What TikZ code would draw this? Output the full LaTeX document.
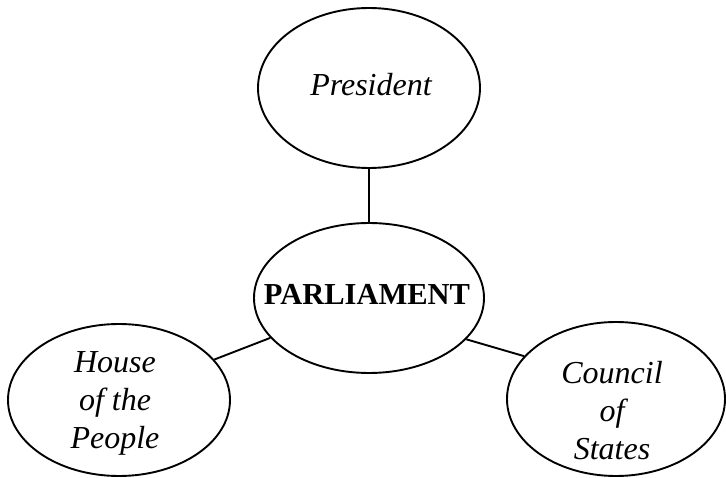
\documentclass[tikz,border=0pt]{standalone}
\usepackage{fontspec}
\setmainfont{Liberation Serif}
\usetikzlibrary{shapes.geometric}
\begin{document}
\begin{tikzpicture}[x=1pt,y=-1pt,
  bub/.style={draw=black,line width=1.9pt,ellipse,inner sep=0pt},
  lab/.style={align=center,inner sep=0pt,font=\fontsize{32}{38}\selectfont\itshape},
  link/.style={draw=black,line width=1.9pt}]
\useasboundingbox (0,0) rectangle (726,478);
\node[bub,minimum width=222pt,minimum height=160pt] (pres) at (369,88) {};
\node[lab] (pres-t) at (371,85) {President};
\node[bub,minimum width=230pt,minimum height=150pt] (parl) at (369,298) {};
\node[inner sep=0pt,font=\fontsize{30.5}{38}\selectfont\bfseries] (parl-t) at (367,294) {PARLIAMENT};
\node[bub,minimum width=222pt,minimum height=152pt] (hp) at (119,400) {};
\node[lab] (hp-t) at (115,403) {House\\of the\\People};
\node[bub,minimum width=218pt,minimum height=154pt] (cs) at (616,399) {};
\node[lab] (cs-t) at (612,411) {Council\\of\\States};
\draw[link] (pres.south) -- (parl.north);
\draw[link] (hp.23.6) -- (parl.202.8);
\draw[link] (parl.337.6) -- (cs.155.7);
\end{tikzpicture}
\end{document}
